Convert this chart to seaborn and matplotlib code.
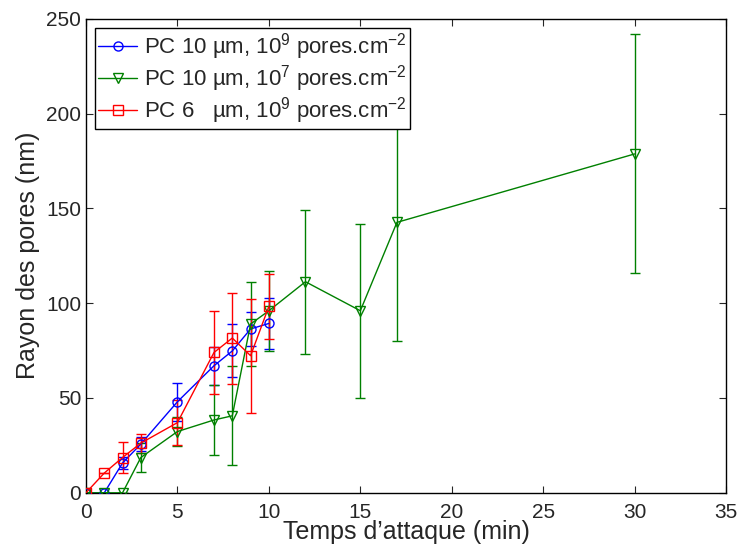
import matplotlib
matplotlib.use("Agg")
import matplotlib.pyplot as plt
import seaborn as sns
import pandas as pd

# Données
t_blue = [0, 1, 2, 3, 5, 7, 8, 9, 10]
r_blue = [0, 0, 15.7, 25.7, 48, 67, 74.8, 86.4, 89.3]
e_blue = [0, 0, 3, 3.5, 10, 10, 14, 9, 13.5]

t_green = [0, 1, 2, 3, 5, 7, 8, 9, 10, 12, 15, 17, 30]
r_green = [0, 0, 0, 18.6, 32.3, 38.4, 40.6, 89, 96, 111.3, 96, 142.6, 178.7]
e_green = [0, 0, 0, 7.5, 7.5, 18.4, 26, 22, 21, 38, 46, 62.4, 63]

t_red = [0, 1, 2, 3, 5, 7, 8, 9, 10]
r_red = [0, 10.4, 18.6, 26.2, 37, 74, 81.6, 72.3, 98.3]
e_red = [0, 0, 8, 5, 12, 22, 24, 30, 17]

labels = [r"PC 10 µm, 10$^{9}$ pores.cm$^{-2}$",
          r"PC 10 µm, 10$^{7}$ pores.cm$^{-2}$",
          r"PC 6   µm, 10$^{9}$ pores.cm$^{-2}$"]

sns.set_style("ticks")
plt.rcParams["font.family"] = ["Liberation Sans", "DejaVu Sans"]
plt.rcParams["mathtext.fontset"] = "custom"
plt.rcParams["mathtext.rm"] = "Liberation Sans"
plt.rcParams["mathtext.it"] = "Liberation Sans:italic"
plt.rcParams["mathtext.default"] = "regular"

fig = plt.figure(figsize=(7.41, 5.5), dpi=100)
ax = fig.add_axes([0.116, 0.104, 0.864, 0.862])

series = [
    (t_blue, r_blue, e_blue, "#0000ff", "o", labels[0]),
    (t_green, r_green, e_green, "#008000", "v", labels[1]),
    (t_red, r_red, e_red, "#ff0000", "s", labels[2]),
]

for t, r, e, col, mk, lab in series:
    df = pd.DataFrame({"t": t, "r": r})
    ax.errorbar(t, r, yerr=e, fmt="none", ecolor=col, elinewidth=1.0,
                capsize=3.7, capthick=1.0, zorder=2)
    sns.lineplot(data=df, x="t", y="r", ax=ax, color=col, marker=mk,
                 markersize=6.5, markerfacecolor="none", markeredgecolor=col,
                 markeredgewidth=1.0, linewidth=1.0, label=lab, zorder=3)

ax.set_xlim(0, 35)
ax.set_ylim(0, 250)
ax.set_xticks(range(0, 36, 5))
ax.set_yticks(range(0, 251, 50))
ax.tick_params(direction="in", top=True, right=True, labelsize=15, length=5)
ax.tick_params(axis="x", pad=7)
for s in ax.spines.values():
    s.set_linewidth(1.0)
    s.set_color("black")

ax.set_xlabel("Temps d’attaque (min)", fontsize=18, labelpad=-1)
ax.set_ylabel("Rayon des pores (nm)", fontsize=18, labelpad=4)

leg = ax.legend(loc="upper left", fontsize=16, frameon=True, fancybox=False,
                edgecolor="black", framealpha=1, borderpad=0.15,
                labelspacing=0.05, handlelength=1.75, handletextpad=0.3,
                borderaxespad=0.4)
leg.get_frame().set_linewidth(1.0)

fig.savefig("out.png", dpi=100)
